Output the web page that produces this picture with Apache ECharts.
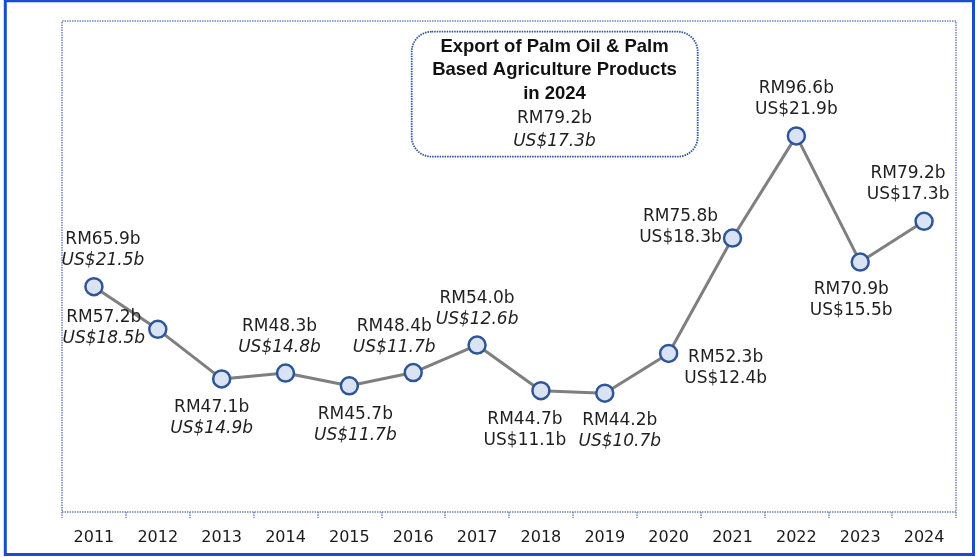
<!DOCTYPE html>
<html>
<head>
<meta charset="utf-8">
<script src="https://cdn.jsdelivr.net/npm/echarts@6/dist/echarts.min.js"></script>
<style>
  html, body { margin: 0; padding: 0; background: #fff; }
  #chart { width: 980px; height: 557px; }
</style>
</head>
<body>
<div id="chart"></div>
<script>
// data
const years = ['2011', '2012', '2013', '2014', '2015', '2016', '2017', '2018', '2019', '2020', '2021', '2022', '2023', '2024'];
const rmValues = [65.9, 57.2, 47.1, 48.3, 45.7, 48.4, 54.0, 44.7, 44.2, 52.3, 75.8, 96.6, 70.9, 79.2];
const usdValues = [21.5, 18.5, 14.9, 14.8, 11.7, 11.7, 12.6, 11.1, 10.7, 12.4, 18.3, 21.9, 15.5, 17.3];
const usdItalic = [true, true, true, true, true, true, true, false, true, false, false, false, false, false];
const titleLines = ['Export of Palm Oil & Palm', 'Based Agriculture Products', 'in 2024'];

// label placement (centre of the two-line label relative to the point)
const labelOffsets = [
  [9, -37], [-54, -1], [-10, 39], [-6, -36], [6, 39], [-19, -35], [0, -36],
  [-16, 39], [15, 38], [57, 15], [-52, -11], [0, -37], [-9, 38], [-16, -37]
];

const FONT = '"DejaVu Sans", sans-serif';
const grid = { left: 62, right: 24, top: 21, bottom: 45 };
const W = 980, H = 557;
const DOT = '#6f86bd';

const fmtRM = v => 'RM' + v.toFixed(1) + 'b';
const fmtUS = v => 'US$' + v.toFixed(1) + 'b';

const seriesData = rmValues.map((v, i) => ({
  value: v,
  label: {
    offset: labelOffsets[i],
    formatter: '{rm|' + fmtRM(v) + '}\n{' + (usdItalic[i] ? 'usi' : 'us') + '|' + fmtUS(usdValues[i]) + '}'
  }
}));

const last = rmValues.length - 1;
const boxCx = 554.5;

const chart = echarts.init(document.getElementById('chart'));
chart.setOption({
  animation: false,
  grid: grid,
  xAxis: {
    type: 'category',
    data: years,
    boundaryGap: true,
    axisLine: { show: false },
    axisTick: { show: true, length: 6, lineStyle: { color: DOT, type: [1.5, 1], width: 1.5 } },
    axisLabel: { color: '#1a1a1a', fontSize: 16, fontFamily: FONT, margin: 18 },
    splitLine: { show: false }
  },
  yAxis: {
    type: 'value',
    min: 20,
    max: 120,
    interval: 20,
    axisLine: { show: false },
    axisTick: { show: false },
    axisLabel: { show: false },
    splitLine: { show: false }
  },
  series: [{
    type: 'line',
    data: seriesData,
    symbol: 'circle',
    symbolSize: 17,
    lineStyle: { color: '#7f7f7f', width: 3 },
    itemStyle: { color: '#dae3f3', borderColor: '#2f5597', borderWidth: 2.5 },
    label: {
      show: true,
      position: 'inside',
      fontFamily: FONT,
      color: '#1f1f1f',
      rich: {
        rm: { fontSize: 17, lineHeight: 21, fontFamily: FONT, color: '#1f1f1f' },
        us: { fontSize: 17, lineHeight: 21, fontFamily: FONT, color: '#1f1f1f' },
        usi: { fontSize: 17, lineHeight: 21, fontFamily: FONT, color: '#1f1f1f', fontStyle: 'italic' }
      }
    },
    emphasis: { disabled: true }
  }],
  graphic: [
    // outer frame
    {
      type: 'rect', silent: true,
      shape: { x: 5.3, y: 0.8, width: 968.2, height: 553.7 },
      style: { fill: 'none', stroke: '#1a4cd2', lineWidth: 3 }
    },
    // dotted plot area
    {
      type: 'rect', silent: true, z: -1,
      shape: { x: grid.left, y: grid.top, width: W - grid.left - grid.right, height: H - grid.top - grid.bottom },
      style: { fill: 'none', stroke: DOT, lineWidth: 1.5, lineDash: [1.5, 1] }
    },
    // title box
    {
      type: 'rect', silent: true,
      shape: { x: 411.7, y: 31.7, width: 286, height: 125, r: 20 },
      style: { fill: '#fff', stroke: '#2f5597', lineWidth: 1.8, lineDash: [1.5, 1] }
    },
    ...titleLines.map((t, i) => ({
      type: 'text', silent: true,
      x: boxCx, y: 47 + i * 23.3,
      style: {
        text: t, fill: '#111', align: 'center', verticalAlign: 'middle',
        font: 'bold 18.5px "Liberation Sans", Arial, sans-serif'
      }
    })),
    {
      type: 'text', silent: true,
      x: boxCx, y: 118.3,
      style: { text: fmtRM(rmValues[last]), fill: '#1f1f1f', align: 'center', verticalAlign: 'middle', font: '17px ' + FONT }
    },
    {
      type: 'text', silent: true,
      x: boxCx, y: 141.7,
      style: { text: fmtUS(usdValues[last]), fill: '#1f1f1f', align: 'center', verticalAlign: 'middle', font: 'italic 17px ' + FONT }
    }
  ]
});
</script>
</body>
</html>
